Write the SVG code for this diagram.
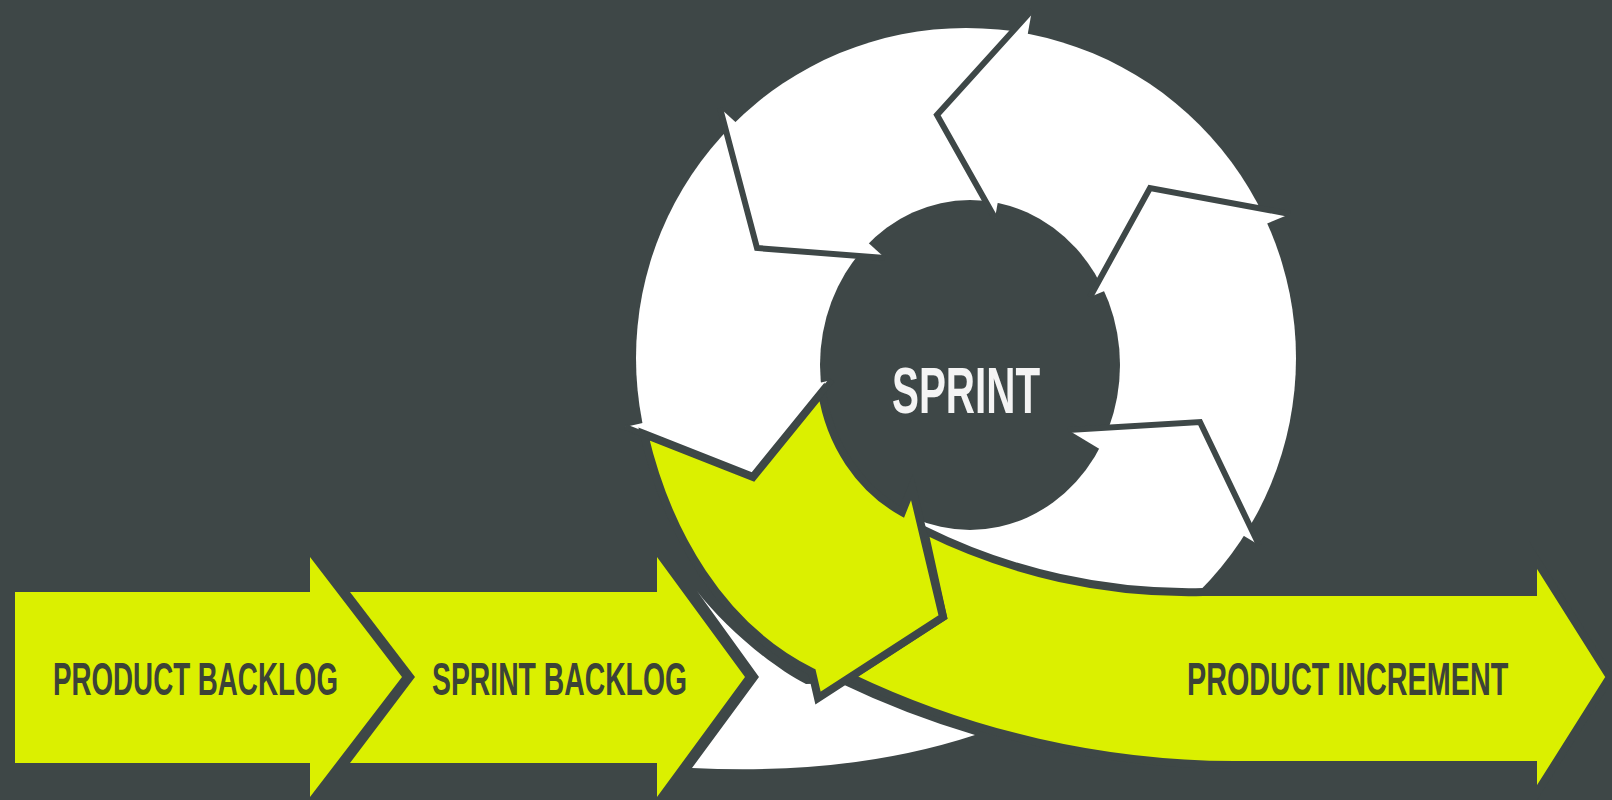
<svg xmlns="http://www.w3.org/2000/svg" width="1612" height="800" viewBox="0 0 1612 800">
  <style>
    .bg { fill: #3e4747; }
    .yel { fill: #dbf000; }
    .wht { fill: #ffffff; }
    .yout { stroke: #3e4747; stroke-width: 8; stroke-linejoin: miter; }
    .sep { fill: none; stroke: #3e4747; stroke-width: 6; stroke-linejoin: miter; }
    .lbl { font-family: "Liberation Sans", Arial, sans-serif; font-weight: bold; font-size: 46px; fill: #3c4337; }
    .title { font-family: "Liberation Sans", Arial, sans-serif; font-weight: bold; font-size: 64px; fill: #f4f4f4; }
  </style>
  <rect class="bg" x="0" y="0" width="1612" height="800"/>

  <g id="product-backlog">
    <path class="yel" d="M15,592 L310,592 L310,557 L402,677 L310,797 L310,763 L15,763 Z"/>
    <text class="lbl" transform="translate(53,695) scale(0.6,1)" x="0" y="0" textLength="475" lengthAdjust="spacingAndGlyphs">PRODUCT BACKLOG</text>
  </g>

  <g id="sprint-backlog">
    <path class="yel" d="M350,592 L657,592 L657,557 L745,677 L657,797 L657,763 L350,763 L415,677 Z"/>
    <text class="lbl" transform="translate(432,695) scale(0.6,1)" x="0" y="0" textLength="425" lengthAdjust="spacingAndGlyphs">SPRINT BACKLOG</text>
  </g>

  <g id="sprint-cycle">
    <circle class="wht" cx="966" cy="358" r="330"/>
    <ellipse class="bg" cx="970" cy="365" rx="150" ry="165"/>
    <path class="wht" d="M697,591 L759,677 L692,768 Q850,776 975,735 A906,906 0 0 1 840,683 L806,684 C770,666 721,623 697,591 Z"/>
    <polygon class="wht" points="937,115 1032,10 995,218"/>
    <polygon class="wht" points="1150,188 1290,214 1090,297"/>
    <polygon class="wht" points="1200,422 1068,430 1259,545"/>
    <polygon class="wht" points="757,248 720,108 885,258"/>
    <polygon class="wht" points="753,477 625,427 832,380"/>
    <text class="title" transform="translate(892,413) scale(0.63,1)" x="0" y="0" textLength="235" lengthAdjust="spacingAndGlyphs">SPRINT</text>
  </g>

  <g id="product-increment">
    <path class="yel yout" d="M924,530 A595,595 0 0 0 1203,592 L1533,592 L1533,555 L1610,677 L1533,799 L1533,765 L1234,765 A898,898 0 0 1 850,677 L943,617 Z"/>
    <text class="lbl" transform="translate(1187,695) scale(0.625,1)" x="0" y="0" textLength="514" lengthAdjust="spacingAndGlyphs">PRODUCT INCREMENT</text>
  </g>

  <g id="connectors">
    <path class="yel yout" d="M644,434 L753,477 L822,392 A150,165 0 0 0 902,512 L912,487 L943,617 L818,698 L812,672 C721,627 667,532 644,434 Z"/>
    <polyline class="sep" points="1032,10 937,115 995,218"/>
    <polyline class="sep" points="1290,214 1150,188 1090,297"/>
    <polyline class="sep" points="1068,430 1200,422 1259,545"/>
    <polyline class="sep" points="720,108 757,248 885,258"/>
    <polyline class="sep" points="625,427 753,477 832,380"/>
  </g>
</svg>
